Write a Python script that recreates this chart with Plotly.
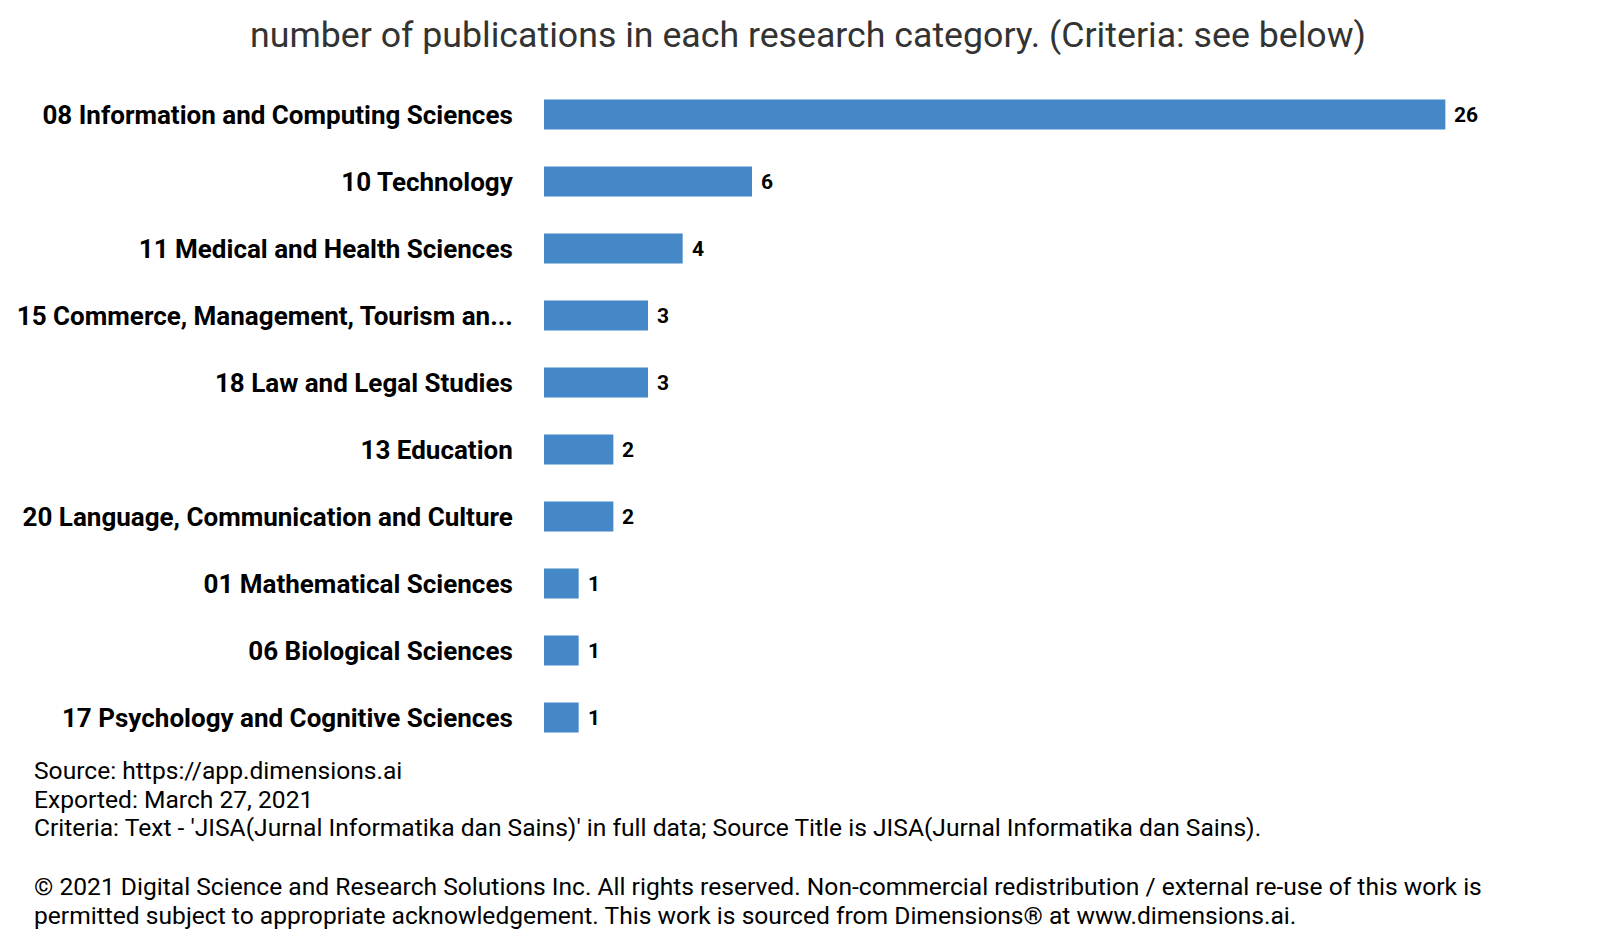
import plotly.graph_objects as go

categories = [
    "08 Information and Computing Sciences",
    "10 Technology",
    "11 Medical and Health Sciences",
    "15 Commerce, Management, Tourism an...",
    "18 Law and Legal Studies",
    "13 Education",
    "20 Language, Communication and Culture",
    "01 Mathematical Sciences",
    "06 Biological Sciences",
    "17 Psychology and Cognitive Sciences",
]
values = [26, 6, 4, 3, 3, 2, 2, 1, 1, 1]

title_text = "number of publications in each research category. (Criteria: see below)"
footer_lines = [
    "Source: https://app.dimensions.ai",
    "Exported: March 27, 2021",
    "Criteria: Text - 'JISA(Jurnal Informatika dan Sains)' in full data; Source Title is JISA(Jurnal Informatika dan Sains).",
    "",
    "© 2021 Digital Science and Research Solutions Inc. All rights reserved. Non-commercial redistribution / external re-use of this work is",
    "permitted subject to appropriate acknowledgement. This work is sourced from Dimensions® at www.dimensions.ai.",
]

W, H = 1600, 950
L, R, T, B = 536, 24, 73, 207

fig = go.Figure(
    go.Bar(
        x=values,
        y=categories,
        orientation="h",
        marker=dict(color="#4488c8", line=dict(width=0)),
        hoverinfo="skip",
    )
)

for c, v in zip(categories, values):
    fig.add_annotation(
        x=v, y=c, xref="x", yref="y",
        text=str(v), showarrow=False,
        xanchor="left", yanchor="middle", xshift=7,
        font=dict(family="Roboto", size=21, color="black", weight="bold"),
    )

fig.update_layout(
    width=W,
    height=H,
    paper_bgcolor="white",
    plot_bgcolor="white",
    margin=dict(l=L, r=R, t=T, b=B, autoexpand=False),
    bargap=0.55,
    showlegend=False,
    title=dict(
        text=title_text,
        x=0.5,
        xref="container",
        xanchor="center",
        y=1 - 27 / H,
        yanchor="middle",
        font=dict(family="Roboto", size=35.7, color="#333333"),
    ),
    xaxis=dict(
        range=[0, 30],
        showgrid=False,
        zeroline=False,
        showticklabels=False,
        showline=False,
        automargin=False,
    ),
    yaxis=dict(
        categoryorder="array",
        categoryarray=categories[::-1],
        showgrid=False,
        zeroline=False,
        showline=False,
        automargin=False,
        ticks="outside",
        ticklen=25,
        tickcolor="rgba(0,0,0,0)",
        tickfont=dict(family="Roboto", size=26, color="black", weight="bold"),
    ),
)

plot_h = H - T - B
line_y = [762, 791, 820, None, 879, 907]
for txt, yc in zip(footer_lines, line_y):
    if not txt:
        continue
    fig.add_annotation(
        text=txt,
        xref="paper",
        yref="paper",
        x=-L / (W - L - R),
        y=(H - B - yc) / plot_h,
        xanchor="left",
        yanchor="middle",
        xshift=24,
        align="left",
        showarrow=False,
        font=dict(family="Roboto", size=24.6, color="black"),
    )

fig.write_html("out.html")
